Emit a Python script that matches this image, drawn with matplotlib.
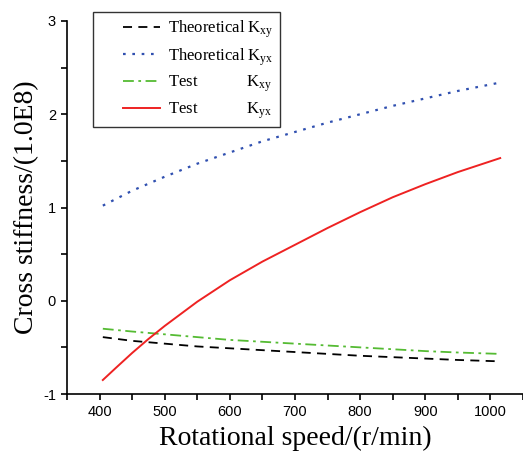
import matplotlib
matplotlib.use("Agg")
import matplotlib.pyplot as plt
from matplotlib.ticker import MultipleLocator
from matplotlib.legend_handler import HandlerLine2D

plt.rcParams['mathtext.fontset'] = 'custom'
plt.rcParams['mathtext.rm'] = 'Liberation Serif'
plt.rcParams['mathtext.it'] = 'Liberation Serif:italic'

speed = [405, 450, 500, 550, 600, 650, 700, 750, 800, 850, 900, 950, 1015]
theo_kxy = [-0.39, -0.43, -0.46, -0.49, -0.51, -0.53, -0.55, -0.57, -0.59, -0.605, -0.62, -0.635, -0.65]
theo_kyx = [1.02, 1.18, 1.33, 1.47, 1.59, 1.71, 1.81, 1.91, 2.00, 2.09, 2.17, 2.25, 2.34]
test_kxy = [-0.30, -0.33, -0.36, -0.39, -0.42, -0.44, -0.46, -0.48, -0.50, -0.52, -0.54, -0.555, -0.57]
speed_test_kyx = [405, 425, 450, 475, 500, 550, 600, 650, 700, 750, 800, 850, 900, 950, 1015]
test_kyx = [-0.85, -0.72, -0.56, -0.41, -0.27, -0.01, 0.22, 0.42, 0.60, 0.78, 0.95, 1.11, 1.25, 1.38, 1.53]

labels = ["Theoretical K$_{\\mathrm{xy}}$", "Theoretical K$_{\\mathrm{yx}}$",
          "Test            K$_{\\mathrm{xy}}$", "Test            K$_{\\mathrm{yx}}$"]


class OffsetLineHandler(HandlerLine2D):
    """Draw the legend line only in the right part of the handle box."""
    frac = 0.38

    def create_artists(self, legend, orig_handle, xdescent, ydescent,
                       width, height, fontsize, trans):
        off = width * self.frac
        return super().create_artists(legend, orig_handle, xdescent - off, ydescent,
                                      width - off, height, fontsize, trans)


fig = plt.figure(figsize=(5.23, 4.57), dpi=100)
ax = fig.add_axes([67/523, 63/457, 456/523, 373/457])

l1, = ax.plot(speed, theo_kxy, color='black', linestyle=(0, (5, 3.5)), lw=1.3, label=labels[0])
l2, = ax.plot(speed, theo_kyx, color='#3050b0', linestyle=(0, (1.2, 3.0)), lw=1.6, label=labels[1])
l3, = ax.plot(speed, test_kxy, color='#55bb33', linestyle=(0, (6, 2.5, 1.5, 2.5)), lw=1.3, label=labels[2])
l4, = ax.plot(speed_test_kyx, test_kyx, color='#ee2222', linestyle='-', lw=1.4, label=labels[3])

ax.set_xlim(350, 1050)
ax.set_ylim(-1, 3)
ax.xaxis.set_minor_locator(MultipleLocator(50))
ax.yaxis.set_minor_locator(MultipleLocator(0.5))
ax.set_xticks(range(400, 1001, 100))
ax.set_xticklabels([str(v) for v in range(400, 1001, 100)])
ax.set_yticks([-1, 0, 1, 2, 3])
ax.set_yticklabels(['-1', '0', '1', '2', '3'])

for s in ['top', 'right']:
    ax.spines[s].set_visible(False)
for s in ['left', 'bottom']:
    ax.spines[s].set_linewidth(1.2)
ax.tick_params(which='both', direction='out', width=1.2, labelsize=10.5,
               labelfontfamily='Liberation Sans')
ax.tick_params(which='major', length=4.5)
ax.tick_params(which='minor', length=4)

ax.set_xlabel("Rotational speed/(r/min)", fontsize=20, family='Liberation Serif', labelpad=5)
ax.set_ylabel("Cross stiffness/(1.0E8)", fontsize=20, family='Liberation Serif', labelpad=3)

h = OffsetLineHandler()
leg = ax.legend(handles=[l1, l2, l3, l4], loc='upper left',
                bbox_to_anchor=(93/523, 1 - 12/457),
                bbox_transform=fig.transFigure, frameon=True, fancybox=False,
                prop={'family': 'Liberation Serif', 'size': 12},
                handlelength=3.66, handletextpad=0.48, borderpad=0.38,
                labelspacing=0.36, borderaxespad=0,
                handler_map={l1: h, l2: h, l3: h, l4: h})
leg.get_frame().set_edgecolor('black')
leg.get_frame().set_linewidth(1.0)

fig.savefig("out.png", dpi=100)
